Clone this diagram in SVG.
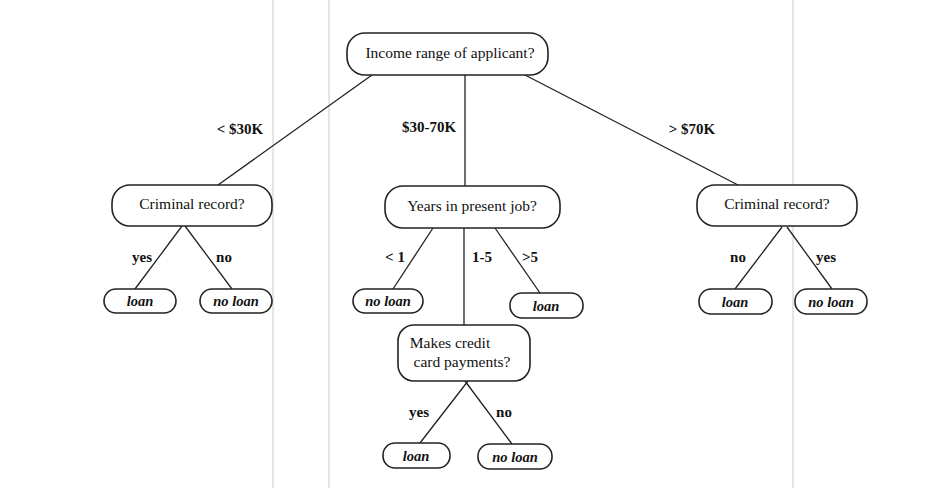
<svg xmlns="http://www.w3.org/2000/svg" width="942" height="488" viewBox="0 0 942 488">
<style>
.n{fill:#fff;stroke:#222;stroke-width:1.6}
.t{font-family:"Liberation Serif",serif;font-size:15.5px;fill:#111;text-anchor:middle}
.lf{font-family:"Liberation Serif",serif;font-size:14.5px;font-weight:bold;font-style:italic;fill:#111;text-anchor:middle}
.lb{font-family:"Liberation Serif",serif;font-size:15px;font-weight:bold;fill:#111;text-anchor:middle}
.e{stroke:#222;stroke-width:1.3;fill:none}
.g{stroke:#ccc;stroke-width:1}
</style>
<rect width="942" height="488" fill="#fff"/>
<g id="bg"><line class="g" x1="273" y1="0" x2="273" y2="488"/><line class="g" x1="329" y1="0" x2="329" y2="488"/><line class="g" x1="793" y1="0" x2="793" y2="488"/></g>
<g id="edges">
<line class="e" x1="372" y1="75" x2="218" y2="185"/>
<line class="e" x1="465" y1="75" x2="465" y2="186"/>
<line class="e" x1="525" y1="75" x2="738" y2="185"/>
<line class="e" x1="182" y1="226" x2="135" y2="289"/>
<line class="e" x1="185" y1="226" x2="232" y2="289"/>
<line class="e" x1="433" y1="228" x2="393" y2="289"/>
<line class="e" x1="464" y1="228" x2="464" y2="325" stroke-width="2"/>
<line class="e" x1="495" y1="228" x2="540" y2="293"/>
<line class="e" x1="468" y1="381" x2="420" y2="443"/>
<line class="e" x1="465" y1="381" x2="512" y2="444"/>
<line class="e" x1="782" y1="227" x2="735" y2="289"/>
<line class="e" x1="787" y1="227" x2="832" y2="289"/>
<text class="lb" x="240" y="134">&lt; $30K</text>
<text class="lb" x="429" y="132">$30-70K</text>
<text class="lb" x="692" y="134">&gt; $70K</text>
<text class="lb" x="142" y="262">yes</text>
<text class="lb" x="224" y="262">no</text>
<text class="lb" x="395" y="262">&lt; 1</text>
<text class="lb" x="482" y="262">1-5</text>
<text class="lb" x="530" y="262">&gt;5</text>
<text class="lb" x="738" y="262">no</text>
<text class="lb" x="826" y="262">yes</text>
<text class="lb" x="419" y="417">yes</text>
<text class="lb" x="504" y="417">no</text>
</g>
<g id="root"><rect class="n" x="347" y="33" width="201" height="42" rx="18"/><text class="t" x="450" y="58">Income range of applicant?</text></g>
<g id="crimL"><rect class="n" x="112" y="185" width="160" height="41" rx="18"/><text class="t" x="192" y="209">Criminal record?</text></g>
<g id="years"><rect class="n" x="385" y="186" width="175" height="42" rx="18"/><text class="t" x="472" y="211">Years in present job?</text></g>
<g id="crimR"><rect class="n" x="697" y="185" width="160" height="41" rx="18"/><text class="t" x="777" y="209">Criminal record?</text></g>
<g id="credit"><rect class="n" x="398" y="325" width="132" height="56" rx="16"/><text class="t" x="450" y="348">Makes credit</text><text class="t" x="462" y="367">card payments?</text></g>
<g id="l1"><rect class="n" x="104" y="289" width="72" height="24" rx="12"/><text class="lf" x="140" y="306">loan</text></g>
<g id="l2"><rect class="n" x="200" y="289" width="72" height="24" rx="12"/><text class="lf" x="236" y="306">no loan</text></g>
<g id="l3"><rect class="n" x="353" y="289" width="70" height="24" rx="12"/><text class="lf" x="388" y="306">no loan</text></g>
<g id="l4"><rect class="n" x="510" y="293" width="73" height="25" rx="12"/><text class="lf" x="546" y="311">loan</text></g>
<g id="l5"><rect class="n" x="699" y="289" width="73" height="25" rx="12"/><text class="lf" x="735" y="307">loan</text></g>
<g id="l6"><rect class="n" x="795" y="289" width="72" height="25" rx="12"/><text class="lf" x="831" y="307">no loan</text></g>
<g id="l7"><rect class="n" x="383" y="443" width="67" height="25" rx="12"/><text class="lf" x="416" y="461">loan</text></g>
<g id="l8"><rect class="n" x="478" y="444" width="74" height="25" rx="12"/><text class="lf" x="515" y="462">no loan</text></g>
</svg>
